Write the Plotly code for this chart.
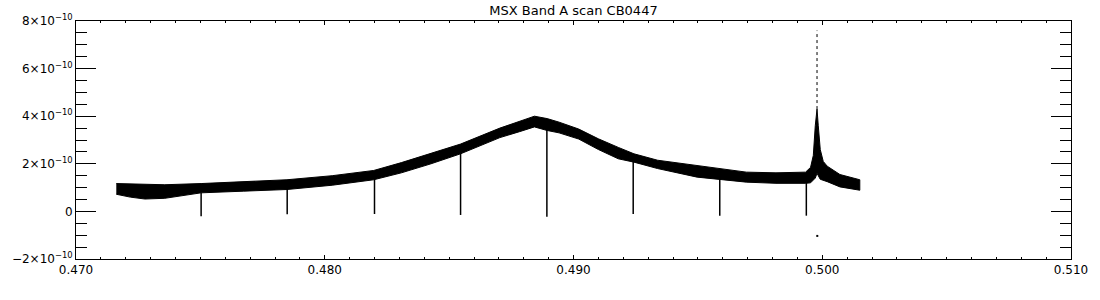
import plotly.graph_objects as go

# ---- data (flux in units of 1e-10) ----
band_x = [0.47162, 0.47218, 0.47277, 0.47357, 0.47503, 0.47674, 0.47848, 0.48030,
          0.48197, 0.48308, 0.48427, 0.48546, 0.48704, 0.48783, 0.48843, 0.48894,
          0.48942, 0.49021, 0.49100, 0.49180, 0.49243, 0.49338, 0.49497, 0.49588,
          0.49695, 0.49814, 0.49893, 0.49933, 0.49953, 0.49964, 0.49972, 0.49979,
          0.49984, 0.49992, 0.50004, 0.50020, 0.50071, 0.50151]
band_upper = [1.17, 1.15, 1.12, 1.12, 1.17, 1.25, 1.33, 1.50,
              1.72, 2.05, 2.45, 2.83, 3.50, 3.80, 4.00, 3.90,
              3.75, 3.46, 3.05, 2.69, 2.42, 2.15, 1.93, 1.80,
              1.65, 1.62, 1.62, 1.65, 1.85, 2.35, 3.60, 4.30,
              3.60, 2.60, 2.10, 1.90, 1.55, 1.33]
band_lower = [0.72, 0.60, 0.52, 0.55, 0.78, 0.85, 0.92, 1.10,
              1.33, 1.62, 2.00, 2.42, 3.10, 3.35, 3.55, 3.40,
              3.30, 3.04, 2.60, 2.21, 2.07, 1.80, 1.44, 1.35,
              1.23, 1.18, 1.17, 1.18, 1.20, 1.30, 1.40, 1.60,
              1.50, 1.35, 1.30, 1.25, 1.03, 0.89]

dip_x = [0.47503, 0.47849, 0.48200, 0.48546, 0.48893, 0.49240, 0.49588, 0.49936]
dip_top = [0.80, 0.95, 1.35, 2.45, 3.45, 2.10, 1.38, 1.20]
dip_bottom = [-0.20, -0.12, -0.11, -0.15, -0.22, -0.11, -0.18, -0.18]

spike_x = 0.49979
spike_from = 4.3
spike_to = 7.6

outlier_x = [0.49980]
outlier_y = [-1.03]

scale = 1e-10

y_tick_vals = [-2, 0, 2, 4, 6, 8]
y_tick_text = ["−2×10<sup>−10</sup>", "0", "2×10<sup>−10</sup>", "4×10<sup>−10</sup>",
               "6×10<sup>−10</sup>", "8×10<sup>−10</sup>"]
x_tick_vals = [0.470, 0.480, 0.490, 0.500, 0.510]
x_tick_text = ["0.470", "0.480", "0.490", "0.500", "0.510"]

fig = go.Figure()

# noisy band as filled envelope
fig.add_trace(go.Scatter(
    x=band_x + band_x[::-1],
    y=[v * scale for v in band_upper] + [v * scale for v in band_lower[::-1]],
    fill="toself", fillcolor="black", mode="lines",
    line=dict(color="black", width=1), hoverinfo="skip", showlegend=False))

# dips
dx, dy = [], []
for x, t, b in zip(dip_x, dip_top, dip_bottom):
    dx += [x, x, None]
    dy += [t * scale, b * scale, None]
fig.add_trace(go.Scatter(x=dx, y=dy, mode="lines",
                         line=dict(color="black", width=1.5), showlegend=False))

# spike upper dotted part
fig.add_trace(go.Scatter(x=[spike_x, spike_x], y=[spike_from * scale, spike_to * scale],
                         mode="lines", line=dict(color="black", width=1, dash="dot"),
                         showlegend=False))

fig.add_trace(go.Scatter(x=outlier_x, y=[v * scale for v in outlier_y], mode="markers",
                         marker=dict(color="black", size=2, symbol="square"),
                         showlegend=False))

axis_font = dict(family="DejaVu Sans", size=12, color="black")

fig.update_layout(
    width=1100, height=300,
    margin=dict(l=70, r=21, t=19, b=41),
    paper_bgcolor="white", plot_bgcolor="white",
    showlegend=False,
    title=dict(text="MSX Band A scan CB0447", x=0.5, xref="paper", xanchor="center",
               y=1 - 10 / 300, yref="container", yanchor="middle",
               font=dict(family="DejaVu Sans", size=13, color="black")),
    xaxis=dict(range=[0.470, 0.510], tickvals=x_tick_vals, ticktext=x_tick_text,
               ticks="inside", ticklen=4, tickwidth=1, tickcolor="black",
               showline=True, linecolor="black", linewidth=1, mirror="ticks",
               showgrid=False, zeroline=False, tickfont=axis_font,
               minor=dict(dtick=0.001, tick0=0.470, ticks="inside", ticklen=2,
                          tickcolor="black", tickwidth=1, showgrid=False)),
    yaxis=dict(range=[-2 * scale, 8 * scale], tickvals=[v * scale for v in y_tick_vals],
               ticktext=y_tick_text,
               ticks="inside", ticklen=20, tickwidth=1, tickcolor="black",
               showline=True, linecolor="black", linewidth=1, mirror="ticks",
               showgrid=False, zeroline=False, tickfont=axis_font,
               minor=dict(dtick=0.5 * scale, tick0=0, ticks="inside", ticklen=11,
                          tickcolor="black", tickwidth=1, showgrid=False)),
)

fig.write_html("out.html")
